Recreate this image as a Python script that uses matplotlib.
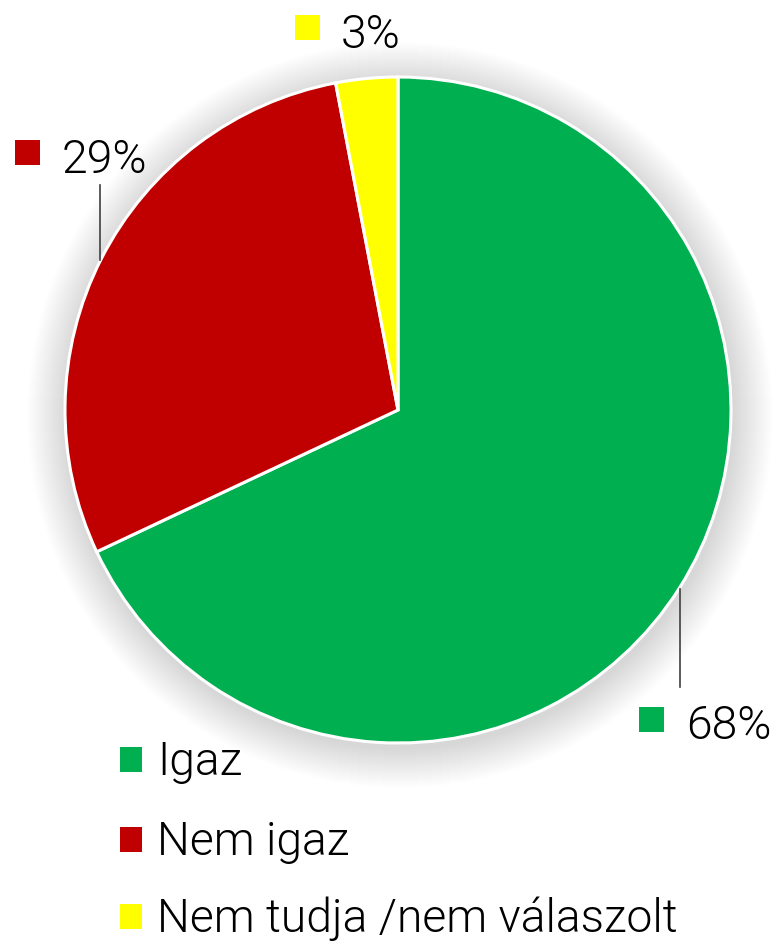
import matplotlib.pyplot as plt
from matplotlib.patches import Circle, Rectangle

# data
labels = ['Igaz', 'Nem igaz', 'Nem tudja /nem válaszolt']
values = [68, 29, 3]
colors = ['#00B050', '#C00000', '#FFFF00']

W, H = 776, 943
fig = plt.figure(figsize=(W / 100, H / 100), dpi=100)
ax = fig.add_axes([0, 0, 1, 1])
ax.set_xlim(0, W)
ax.set_ylim(0, H)
ax.set_aspect('equal')
ax.axis('off')

cx, cy, r = 398, H - 410, 333

# soft shadow around the pie
for k in range(40, 0, -1):
    ax.add_patch(Circle((cx + 2, cy - 5), r + k, color='black', alpha=0.005, lw=0, zorder=0))

ax.pie(values, colors=colors, startangle=90, counterclock=False,
       center=(cx, cy), radius=r, frame=True,
       wedgeprops=dict(edgecolor='white', linewidth=2.2))
ax.set_xlim(0, W)
ax.set_ylim(0, H)
ax.axis('off')

font = dict(family='Roboto', fontweight=300, fontsize=33.3, color='black')

# data labels: (square x, square top y, text x, baseline y)
lab_pos = [(639, 707, 686, 739), (15, 140, 62, 173), (295, 15, 341, 48)]
for v, c, (sx, sy, tx, by) in zip(values, colors, lab_pos):
    ax.add_patch(Rectangle((sx, H - sy - 25), 25, 25, color=c, lw=0))
    ax.text(tx, H - by, f'{v}%', va='baseline', ha='left', **font)

# leader lines
ax.plot([100, 100], [H - 185, H - 260], color='#404040', lw=1.2)
ax.plot([680, 680], [H - 589, H - 687], color='#404040', lw=1.2)

# legend
leg_base = [775, 855, 932]
for lab, c, by in zip(labels, colors, leg_base):
    ax.add_patch(Rectangle((120, H - by + 3), 22, 25, color=c, lw=0))
    ax.text(157, H - by, lab, va='baseline', ha='left', **font)

fig.savefig('out.png', dpi=100)
